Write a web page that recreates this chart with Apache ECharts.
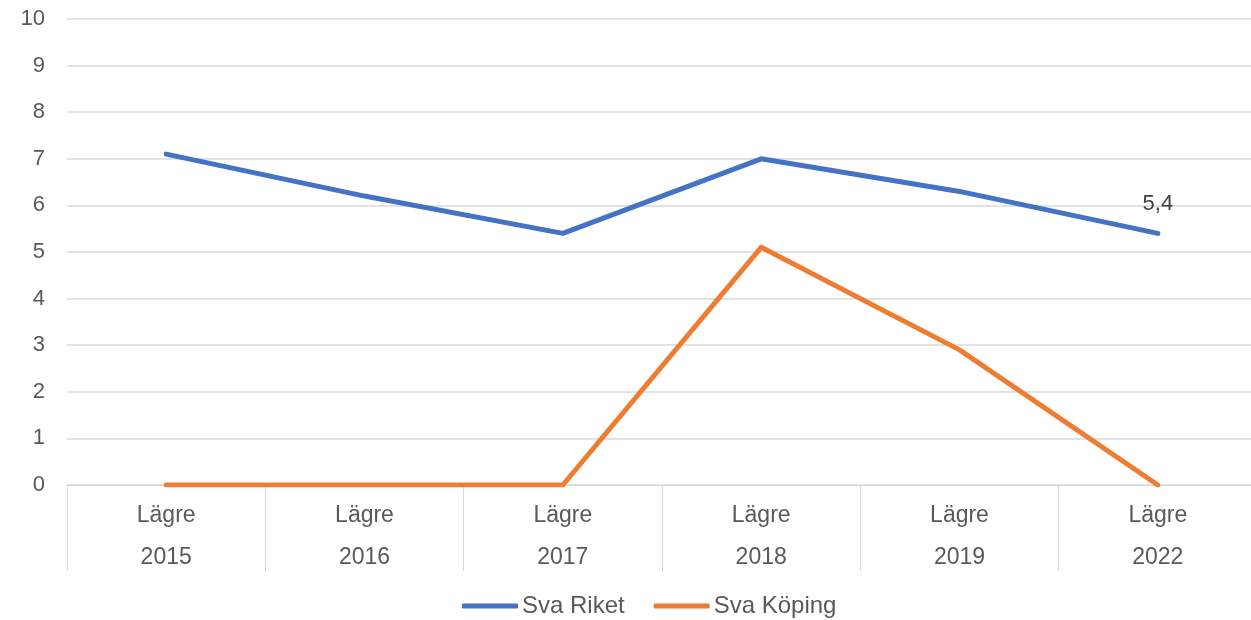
<!DOCTYPE html>
<html>
<head>
<meta charset="utf-8">
<script src="https://cdn.jsdelivr.net/npm/echarts@6/dist/echarts.min.js"></script>
<style>
  html, body { margin: 0; padding: 0; background: #fff; }
  #chart { width: 1251px; height: 620px; }
</style>
</head>
<body>
<div id="chart"></div>
<script>
var years = ['2015', '2016', '2017', '2018', '2019', '2022']
var levels = ['Lägre', 'Lägre', 'Lägre', 'Lägre', 'Lägre', 'Lägre']
var svaRiket = [7.1, 6.2, 5.4, 7.0, 6.3, 5.4]
var svaKoping = [0, 0, 0, 5.1, 2.9, 0]

var categories = years.map(function (y, i) { return levels[i] + '\n' + y })

var riketData = svaRiket.map(function (v, i) {
  if (i === svaRiket.length - 1) {
    return {
      value: v,
      label: {
        show: true,
        position: 'top',
        distance: 18,
        fontSize: 22,
        color: '#404040',
        formatter: function (p) { return String(p.value).replace('.', ',') }
      }
    }
  }
  return v
})

var myChart = echarts.init(document.getElementById('chart'))
myChart.setOption({
  animation: false,
  textStyle: { fontFamily: 'Liberation Sans, Arial, sans-serif' },
  grid: {
    left: 67,
    top: 19,
    right: -6,
    height: 466,
    containLabel: false,
    outerBoundsMode: 'none'
  },
  legend: {
    top: 594,
    left: 462,
    padding: 0,
    icon: 'roundRect',
    itemWidth: 56,
    itemHeight: 5,
    itemGap: 29,
    textStyle: { fontSize: 24, color: '#595959', padding: [0, 0, 0, -1] },
    data: ['Sva Riket', 'Sva Köping']
  },
  xAxis: {
    type: 'category',
    boundaryGap: true,
    data: categories,
    axisLine: { show: true, lineStyle: { color: '#d9d9d9', width: 1 } },
    axisTick: { show: true, length: 86, lineStyle: { color: '#d9d9d9', width: 1 } },
    axisLabel: {
      margin: 10,
      fontSize: 23,
      color: '#595959',
      lineHeight: 42
    }
  },
  yAxis: {
    type: 'value',
    min: 0,
    max: 10,
    interval: 1,
    axisLine: { show: false },
    axisTick: { show: false },
    axisLabel: { fontSize: 22, color: '#595959', margin: 22 },
    splitLine: { lineStyle: { color: '#d9d9d9', width: 1.5 } }
  },
  series: [
    {
      name: 'Sva Riket',
      type: 'line',
      data: riketData,
      symbol: 'circle',
      symbolSize: 0,
      lineStyle: { color: '#4472C4', width: 5, cap: 'round', join: 'round' },
      itemStyle: { color: '#4472C4' }
    },
    {
      name: 'Sva Köping',
      type: 'line',
      data: svaKoping,
      symbol: 'none',
      lineStyle: { color: '#ED7D31', width: 5, cap: 'round', join: 'round' },
      itemStyle: { color: '#ED7D31' }
    }
  ]
})
</script>
</body>
</html>
